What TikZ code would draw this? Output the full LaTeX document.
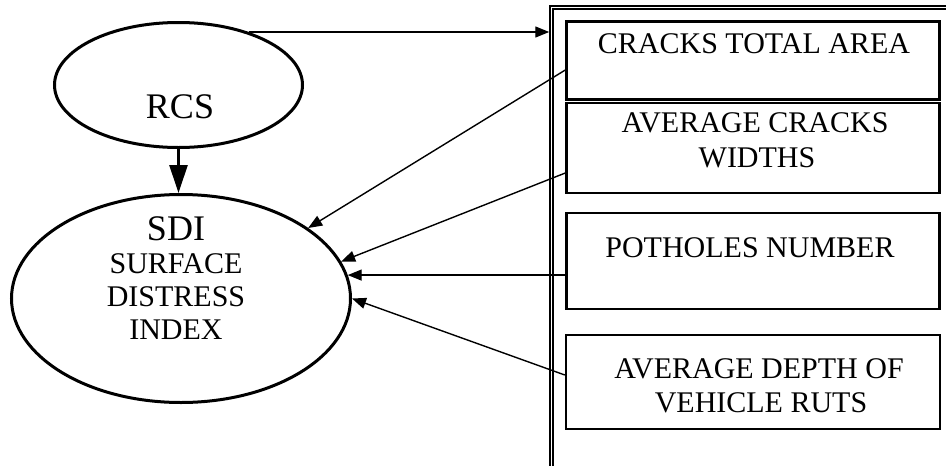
\documentclass[tikz,border=0pt]{standalone}
\usepackage{fontspec}
\setmainfont{Liberation Serif}
\usetikzlibrary{shapes.geometric,arrows.meta}
\begin{document}
\begin{tikzpicture}[x=1pt,y=-1pt,
  ell/.style={ellipse, draw, line width=3pt, inner sep=0pt},
  box/.style={rectangle, draw, line width=2.4pt, inner sep=0pt, minimum width=373pt},
  txt/.style={anchor=base, inner sep=0pt, font=\fontsize{30}{34}\selectfont},
  big/.style={anchor=base, inner sep=0pt, font=\fontsize{36}{40}\selectfont},
  arr/.style={-{Triangle[length=14pt,width=11pt]}, line width=1.4pt},
  thickarr/.style={-{Triangle[length=28pt,width=18pt]}, line width=2.6pt}]
\useasboundingbox (0,0) rectangle (946,466);
% outer frame
\node[draw, double, line width=1.5pt, double distance=1.2pt, inner sep=0pt,
      minimum width=408.5pt, minimum height=462.5pt] (frame) at (755.75,238.75) {};
% ellipses
\node[ell, minimum width=248pt, minimum height=125pt] (rcs) at (178.5,85) {};
\node[big] (rcstxt) at (180,118) {RCS};
\node[ell, minimum width=339pt, minimum height=208pt] (sdi) at (181,298.5) {};
\node[big] (sditxt) at (176,240) {SDI};
\node[txt] (sdi1) at (176,273) {SURFACE};
\node[txt] (sdi2) at (176,306) {DISTRESS};
\node[txt] (sdi3) at (176,339) {INDEX};
% boxes
\node[box, minimum height=78pt] (b1) at (753,60.5) {};
\node[txt] (t1) at (754,53) {CRACKS TOTAL AREA};
\node[box, minimum height=90.5pt] (b2) at (753,148) {};
\node[txt] (t2a) at (755,132) {AVERAGE CRACKS};
\node[txt] (t2b) at (757,167) {WIDTHS};
\node[box, minimum height=95.5pt] (b3) at (753,261) {};
\node[txt] (t3) at (750,257) {POTHOLES NUMBER};
\node[box, minimum height=94pt, minimum width=374pt] (b4) at (753,382) {};
\node[txt] (t4a) at (759,378) {AVERAGE DEPTH OF};
\node[txt] (t4b) at (761,412) {VEHICLE RUTS};
% connectors
\draw[arr, shorten >=1.5pt] (rcs.37) -- (rcs.37 -| frame.west);
\draw[thickarr] (rcs.south) -- (rcs.south |- sdi.north);
\draw[arr] ([yshift=-9.5pt]b1.west) -- (sdi.29.4);
\draw[arr] ([yshift=-25pt]b2.west) -- (sdi.13.3);
\draw[arr] (sdi.8.7 -| b3.west) -- (sdi.8.7);
\draw[arr] ([yshift=7pt]b4.west) -- (sdi.0.9);
\end{tikzpicture}
\end{document}
